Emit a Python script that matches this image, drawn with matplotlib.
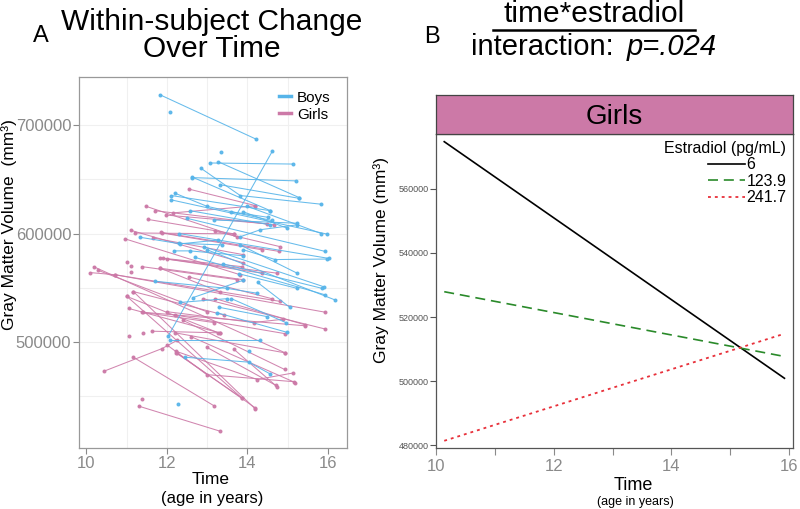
import matplotlib
matplotlib.use('Agg')
import matplotlib.pyplot as plt
from matplotlib.lines import Line2D

plt.rcParams['font.family'] = ['Liberation Sans', 'DejaVu Sans']

# Panel A: one list per subject (age in years, gray matter volume in mm3)
boys_ages = [
    [11.82, 14.21], [12.09], [13.35], [12.04, 14.62], [13.06, 15.12],
    [13.28, 15.29], [12.85, 13.82, 15.83], [12.63, 14.57], [12.62, 15.20],
    [13.31, 15.27], [12.11, 14.57], [12.21, 13.0, 14.6], [12.11, 15.97],
    [12.58, 14.57], [13.16, 15.23], [13.90, 14.98], [13.82, 14.32, 15.23],
    [12.50, 15.93], [12.29, 13.37], [12.91, 15.89], [13.82, 15.23],
    [13.78, 15.23], [13.90, 14.69, 15.97], [11.34, 12.33, 13.28],
    [12.17, 12.58, 13.90], [11.71, 13.49, 14.24], [12.33, 13.50],
    [13.30, 14.48], [13.25, 14.98], [12.08, 14.32], [12.46, 14.03, 14.57],
    [14.05], [12.27], [12.30, 16.03], [13.00, 16.16], [12.70, 15.93],
    [13.40, 15.85], [14.25, 15.05], [12.65, 13.90], [13.60, 14.95],
    [14.00, 15.83], [13.60, 14.50],
]
boys_vols = [
    [728000, 687000], [712000], [675500], [506000, 676000], [665000, 664000],
    [666000, 633000], [660000, 635000, 627000], [652000, 621000], [651500, 648500],
    [645000, 632500], [635000, 621000], [637000, 625000, 612000], [631000, 599500],
    [621000, 608000], [612500, 609500], [620000, 605000], [597000, 603500, 608000],
    [614000, 583500], [591000, 589500], [588000, 551000], [589500, 563500],
    [563000, 549500], [585000, 576000, 576500], [596500, 590500, 594000],
    [584000, 584000, 579500], [556000, 549500, 545000], [536500, 540000],
    [532000, 523500], [527000, 509000], [502000, 502000], [486000, 481500, 470500],
    [492000], [442500], [600000, 577000], [585000, 539000], [578000, 543500],
    [572000, 549500], [555000, 532000], [541000, 557000], [540000, 518000],
    [625000, 600000], [620000, 615000],
]
girls_ages = [
    [10.18, 14.94], [10.10, 10.72, 15.93], [10.43, 11.88, 12.25], [11.17, 13.16],
    [11.30, 13.31], [11.38], [11.05], [11.05, 13.31], [11.17, 14.19],
    [11.01, 13.86], [11.38, 13.16], [11.42], [11.63, 13.31], [12.21, 14.94],
    [12.23, 14.24, 15.13], [12.23, 13.86], [12.25, 14.19], [12.00, 12.99, 15.15],
    [13.66, 14.73], [11.84, 13.86], [12.00, 14.73], [11.84, 13.89],
    [11.40, 15.43], [12.00, 14.15, 14.88], [11.49, 13.74], [11.71, 14.65],
    [12.54, 14.19], [12.15, 14.19], [11.98, 14.48], [11.53, 13.66],
    [11.20, 13.66], [10.97, 13.82], [11.86, 14.79], [11.10, 13.90],
    [11.88, 14.36], [11.65, 13.90], [11.01], [11.90, 14.36], [11.38, 13.74],
    [11.84, 13.33], [10.72, 14.81], [10.30, 12.99], [11.17, 13.41],
    [11.01, 13.28], [12.90, 15.93], [12.40, 14.92], [12.60, 15.19],
    [13.00, 14.71], [12.20, 14.94], [13.20, 15.42], [12.55, 14.60],
    [11.12], [11.10], [13.20, 14.80],
]
girls_vols = [
    [569500, 490000], [564000, 562000, 527500], [473000, 494000, 501500], [486000, 441500],
    [441000, 418000], [448000], [506000], [531000, 508500], [546500, 438500],
    [542000, 448500], [527500, 518000], [508500], [510000, 508500], [508500, 490000],
    [491500, 465500, 471500], [490000, 448500], [490000, 439500], [497500, 470000, 463500],
    [493500, 459000], [577500, 569500], [576500, 563500], [568000, 557500],
    [527500, 515000], [528000, 518000, 521000], [625000, 597000], [621000, 608000],
    [641000, 625800], [619000, 625500], [617000, 609000], [613000, 599700],
    [600500, 599700], [595000, 562000], [601000, 583500], [603000, 573000],
    [600500, 585000], [596000, 580500], [574000], [577000, 563500], [569500, 557500],
    [568000, 546000], [562000, 537500], [566000, 528000], [546500, 525000],
    [542000, 508500], [540000, 512000], [520000, 474800], [505000, 462600],
    [495000, 460000], [525000, 507700], [540000, 516000], [560000, 540000],
    [570000], [565000], [602000, 588000],
]

# Panel B: model-predicted trajectories for girls
time_pts = [10.14, 15.92]
e2_levels = ['6', '123.9', '241.7']
e2_6 = [574700, 500900]
e2_123 = [527900, 507700]
e2_241 = [481400, 514800]

BLUE = '#56B4E9'
PINK = '#CC79A7'
GRAY = '#8a8a8a'

W, H = 800, 509
fig = plt.figure(figsize=(W / 100, H / 100), dpi=100)


def fx(x):
    return x / W


def fy(y):
    return 1 - y / H


# ---- Panel A ----
axA = fig.add_axes([fx(79), fy(448), 268 / W, 371 / H])
for v in [11, 12, 13, 14, 15]:
    axA.axvline(v, color='#f0f0f0', lw=0.8, zorder=0)
for v in [450000, 500000, 550000, 600000, 650000, 700000]:
    axA.axhline(v, color='#f0f0f0', lw=0.8, zorder=0)
for ages, vols in zip(girls_ages, girls_vols):
    axA.plot(ages, vols, color=PINK, lw=0.75, marker='o', ms=1.9, alpha=0.9)
for ages, vols in zip(boys_ages, boys_vols):
    axA.plot(ages, vols, color=BLUE, lw=0.75, marker='o', ms=1.9, alpha=0.9)
axA.set_xlim(9.82, 16.47)
axA.set_ylim(402400, 744200)
axA.set_xticks([10, 12, 14, 16])
axA.set_yticks([500000, 600000, 700000])
axA.tick_params(colors=GRAY, labelsize=12, length=4, width=0.8, pad=1.5)
for s in axA.spines.values():
    s.set_color('#999999')
    s.set_linewidth(0.9)
hA = [Line2D([], [], color=BLUE, lw=2.5), Line2D([], [], color=PINK, lw=2.5)]
axA.legend(hA, ['Boys', 'Girls'], loc='upper right', frameon=False, fontsize=11,
           handlelength=0.8, handletextpad=0.4, labelspacing=0.2,
           bbox_to_anchor=(0.99, 1.0))

fig.text(fx(41), fy(42), 'A', fontsize=17, ha='center', va='baseline')
fig.text(fx(212), fy(30), 'Within-subject Change', fontsize=21.5, ha='center', va='baseline')
fig.text(fx(212), fy(57), 'Over Time', fontsize=21.5, ha='center', va='baseline')
fig.text(fx(9), fy(225), 'Gray Matter Volume  (mm³)', fontsize=12.5, rotation=90,
         ha='center', va='center')
fig.text(fx(211), fy(484), 'Time', fontsize=12.5, ha='center', va='baseline')
fig.text(fx(212), fy(503), '(age in years)', fontsize=12, ha='center', va='baseline')

# ---- Panel B ----
axB = fig.add_axes([fx(436), fy(448), 356.7 / W, 313.7 / H])
axB.plot(time_pts, e2_6, color='black', lw=1.2, label=e2_levels[0])
axB.plot(time_pts, e2_123, color='#2a8a2a', lw=1.2, dashes=(6, 3.5), label=e2_levels[1])
axB.plot(time_pts, e2_241, color='#e8303a', lw=1.3, dashes=(1.6, 2.2), label=e2_levels[2])
axB.set_xlim(10.0, 16.06)
axB.set_ylim(479150, 577000)
axB.set_xticks([10, 12, 14, 16])
axB.set_xticks([11, 13, 15], minor=True)
axB.set_yticks([480000, 500000, 520000, 540000, 560000])
axB.tick_params(axis='x', which='both', colors=GRAY, labelsize=12, length=5, width=0.8, pad=3)
axB.tick_params(axis='y', colors='#555555', labelsize=6.5, length=4, width=0.8, pad=1.5)
for s in axB.spines.values():
    s.set_color('#555555')
    s.set_linewidth(0.9)
axB.legend(title='Estradiol (pg/mL)', loc='upper right', frameon=False, alignment='right',
           fontsize=11.5, title_fontsize=11.5, handlelength=2.3, handletextpad=0.1,
           labelspacing=0.1, borderaxespad=0.3, borderpad=0.1)

axS = fig.add_axes([fx(436), fy(134.3), 356.7 / W, 39.3 / H])
axS.set_facecolor(PINK)
axS.set_xticks([])
axS.set_yticks([])
for s in axS.spines.values():
    s.set_color('#444444')
    s.set_linewidth(0.9)
axS.text(0.5, 0.45, 'Girls', fontsize=20, ha='center', va='center', transform=axS.transAxes)

fig.text(fx(432), fy(43), 'B', fontsize=17, ha='center', va='baseline')
fig.text(fx(594), fy(22), 'time*estradiol', fontsize=21.5, ha='center', va='baseline')
fig.add_artist(Line2D([fx(493), fx(695)], [fy(29.5), fy(29.5)], color='black', lw=1.8))
fig.text(fx(614), fy(55), 'interaction:', fontsize=21, ha='right', va='baseline')
fig.text(fx(627), fy(55), 'p=.024', fontsize=21, ha='left', va='baseline', style='italic')
fig.text(fx(381), fy(260), 'Gray Matter Volume (mm³)', fontsize=12.5, rotation=90,
         ha='center', va='center')
fig.text(fx(633), fy(490), 'Time', fontsize=13, ha='center', va='baseline')
fig.text(fx(635), fy(505), '(age in years)', fontsize=9, ha='center', va='baseline')

fig.savefig('out.png', dpi=100)
